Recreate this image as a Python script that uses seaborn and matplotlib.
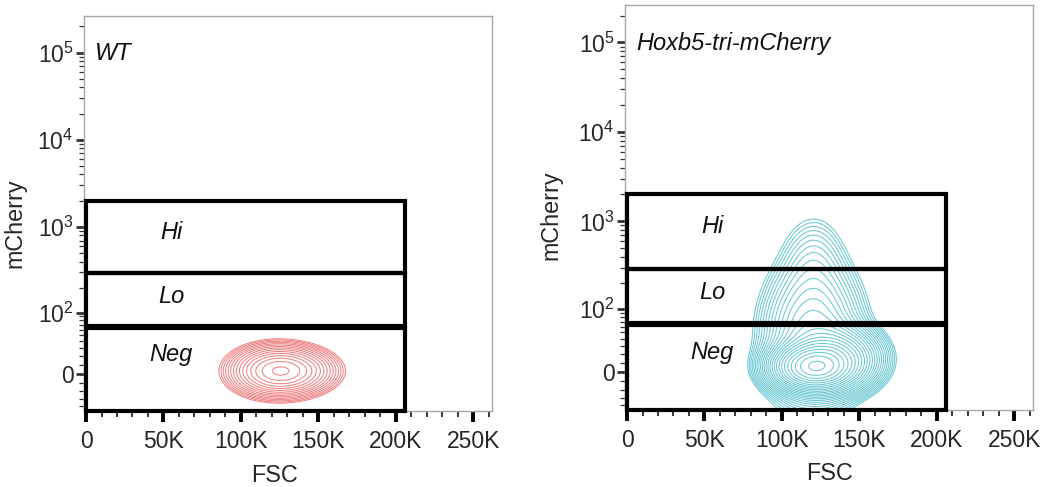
import numpy as np
import matplotlib
matplotlib.use("Agg")
import matplotlib.pyplot as plt
from matplotlib.patches import Rectangle
from matplotlib.ticker import FixedLocator, FixedFormatter, NullFormatter
import seaborn as sns

# ---------------- data ----------------
fsc_ticks = [0, 50000, 100000, 150000, 200000, 250000]
fsc_ticklabels = ["0", "50K", "100K", "150K", "200K", "250K"]
fsc_minor = [v for v in range(0, 262001, 10000)]
mch_ticks = [0, 100, 1000, 10000, 100000]
mch_ticklabels = ["0", r"$\mathregular{10^2}$", r"$\mathregular{10^3}$",
                  r"$\mathregular{10^4}$", r"$\mathregular{10^5}$"]
mch_minor = ([-40, -30, -20, -10, 10, 20, 30, 40, 50, 60, 70, 80, 90]
             + [200, 300, 400, 500, 600, 700, 800, 900]
             + [2000, 3000, 4000, 5000, 6000, 7000, 8000, 9000]
             + [20000, 30000, 40000, 50000, 60000, 70000, 80000, 90000]
             + [200000])
fsc_range = [-1300, 262144]
mch_range = [-48, 262144]

panel_titles = ["WT", "Hoxb5-tri-mCherry"]
gate_names = ["Hi", "Lo", "Neg"]
gate_fsc_left = 0
gate_fsc_right = 206000
gate_low = [[295, 67, -48], [295, 67, -48]]
gate_high = [[2000, 295, 63], [2000, 295, 63]]
gate_label_fsc = 55000
gate_label_mch = [870, 156, 22]

# population components (FSC centre, mCherry centre, FSC sd, mCherry sd in decades, weight)
wt_fsc_c = [124000, 138000]
wt_mch_c = [3, 3]
wt_fsc_sd = [13000, 12000]
wt_mch_sd = [0.125, 0.115]
wt_w = [1.0, 0.2]

hox_fsc_c = [120500, 133000, 120000, 120500]
hox_mch_c = [5, 14, 45, 330]
hox_fsc_sd = [12500, 14000, 15500, 11000]
hox_mch_sd = [0.125, 0.17, 0.40, 0.30]
hox_w = [1.0, 0.35, 0.12, 0.019]

colors = ["#ef8383", "#6cc9d3"]

# ---------------- scale ----------------
A = 41.7
LN10 = np.log(10)


def fwd(y):
    return np.arcsinh(np.asarray(y, dtype=float) / A) / LN10


def inv(u):
    return A * np.sinh(np.asarray(u, dtype=float) * LN10)


sns.set_theme(style="white")
plt.rcParams["font.family"] = ["Liberation Sans", "DejaVu Sans"]
plt.rcParams["mathtext.fontset"] = "custom"
plt.rcParams["mathtext.rm"] = "Liberation Sans"

fig = plt.figure(figsize=(10.5, 4.87), dpi=100)
ax1 = fig.add_axes([84 / 1050, (487 - 411) / 487, 408 / 1050, 395 / 487])
ax2 = fig.add_axes([625 / 1050, (487 - 410) / 487, 408 / 1050, 405 / 487])
axes = [ax1, ax2]

comps = [
    (wt_fsc_c, wt_mch_c, wt_fsc_sd, wt_mch_sd, wt_w),
    (hox_fsc_c, hox_mch_c, hox_fsc_sd, hox_mch_sd, hox_w),
]
nlevels = [15, 25]
lowfrac = [0.012, 0.004]

xg = np.linspace(40000, 220000, 500)
ug = np.linspace(fwd(mch_range[0]) - 0.2, 2.2, 500)
XG, UG = np.meshgrid(xg, ug)
YG = inv(UG)

for i, ax in enumerate(axes):
    ax.set_yscale("function", functions=(fwd, inv))
    ax.set_xlim(*fsc_range)
    ax.set_ylim(*mch_range)

    fc, mc, fs, ms, w = comps[i]
    Z = np.zeros_like(XG)
    for a, b, c, d, e in zip(fc, mc, fs, ms, w):
        Z += e * np.exp(-0.5 * (((XG - a) / c) ** 2 + ((UG - fwd(b)) / d) ** 2))
    zmax = Z.max()
    levels = zmax * np.logspace(np.log10(lowfrac[i]), np.log10(0.93), nlevels[i])
    ax.contour(XG, YG, Z, levels=levels, colors=colors[i], linewidths=0.75)

    # gates
    for lo, hi in zip(gate_low[i], gate_high[i]):
        ax.add_patch(Rectangle((gate_fsc_left, lo), gate_fsc_right - gate_fsc_left, hi - lo,
                               fill=False, edgecolor="black", linewidth=3.0,
                               clip_on=False, zorder=5, joinstyle="miter"))
    for name, ym in zip(gate_names, gate_label_mch):
        ax.text(gate_label_fsc, ym, name, style="italic", fontsize=17,
                ha="center", va="center", color="#111111")

    ax.text(0.028, 0.905, panel_titles[i], transform=ax.transAxes, style="italic",
            fontsize=17, ha="left", va="center", color="#111111")

    # ticks
    ax.xaxis.set_major_locator(FixedLocator(fsc_ticks))
    ax.xaxis.set_major_formatter(FixedFormatter(fsc_ticklabels))
    ax.xaxis.set_minor_locator(FixedLocator(fsc_minor))
    ax.xaxis.set_minor_formatter(NullFormatter())
    ax.yaxis.set_major_locator(FixedLocator(mch_ticks))
    ax.yaxis.set_major_formatter(FixedFormatter(mch_ticklabels))
    ax.yaxis.set_minor_locator(FixedLocator(mch_minor))
    ax.yaxis.set_minor_formatter(NullFormatter())

    ax.tick_params(axis="x", which="major", direction="out", length=8, width=2.8,
                   color="black", labelsize=16.5, pad=6, bottom=True)
    ax.tick_params(axis="x", which="minor", direction="out", length=4.2, width=1.1,
                   color="black", bottom=True)
    ax.tick_params(axis="y", which="major", direction="out", length=5.5, width=2.0,
                   color="#333333", labelsize=16.5, pad=2, left=True)
    ax.tick_params(axis="y", which="minor", direction="out", length=3.6, width=0.9,
                   color="#333333", left=True)

    for s in ax.spines.values():
        s.set_color("#a8a8a8")
        s.set_linewidth(1.0)
        s.set_visible(True)

    ax.set_xlabel("FSC", fontsize=16.8)
    ax.set_ylabel("mCherry", fontsize=16.8)
    ax.grid(False)
    ax.set_facecolor("white")

ax1.xaxis.set_label_coords(0.468, -0.135)
ax2.xaxis.set_label_coords(0.502, -0.129)
ax1.yaxis.set_label_coords(-0.142, 0.476)
ax2.yaxis.set_label_coords(-0.154, 0.48)

fig.savefig("out.png", dpi=100, facecolor="white")
